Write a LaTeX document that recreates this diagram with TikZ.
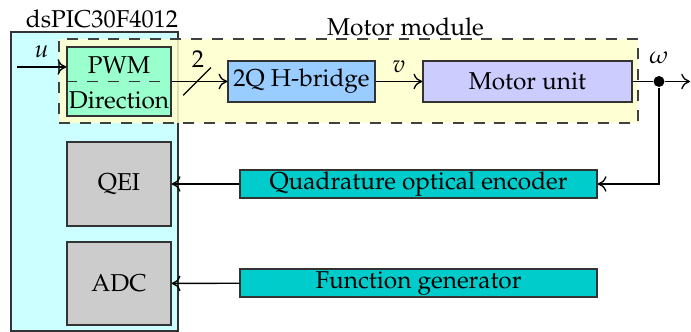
\documentclass[tikz,border=0pt]{standalone}
\usepackage[T1]{fontenc}
\usepackage{mathpazo}
\usetikzlibrary{
    positioning,
    arrows.meta
}
\definecolor{chipfill}{HTML}{CCFFFF}
\definecolor{modfill}{HTML}{FFFFCC}
\definecolor{pwmfill}{HTML}{99FFCC}
\definecolor{bridgefill}{HTML}{99CCFF}
\definecolor{motorfill}{HTML}{CCCCFF}
\definecolor{periphfill}{HTML}{CCCCCC}
\definecolor{extfill}{HTML}{00CCCC}
\tikzset{
    >={To[length=3.6pt, width=6.4pt]},
    every picture/.style={line width=0.55pt},
    block/.style={
        draw=black!80,
        inner sep=2pt
    },
    longdash/.style={
        dash pattern=on 4.5pt off 4pt
    },
    junction/.style={
        circle,
        fill=black,
        inner sep=0pt,
        minimum size=4.5pt
    }
}

\begin{document}
\begin{tikzpicture}[
    auto
]
    \useasboundingbox (0,0) rectangle (9.957,4.784);

    % Bloques grandes
    \node[block, fill=chipfill, minimum width=2.406cm, minimum height=4.309cm] (dspic) at (1.362,2.169) {};
    \node[block, draw=black!75, longdash, fill=modfill, fill opacity=0.85,
          minimum width=8.343cm, minimum height=1.210cm] (module) at (5.022,3.617) {};
    \node (dspiclbl) at (1.47,4.51)  {dsPIC30F4012};
    \node (modlbl)   at (5.843,4.40) {Motor module};

    % Bloques
    \node[block, fill=pwmfill,    minimum width=1.499cm, minimum height=0.994cm] (pwm)    at (1.715,3.610) {};
    \node[block, fill=bridgefill, minimum width=2.118cm, minimum height=0.591cm] (bridge) at (4.345,3.610) {2Q H-bridge};
    \node[block, fill=motorfill,  minimum width=3.012cm, minimum height=0.591cm] (motor)  at (7.601,3.610) {Motor unit};
    \node[block, fill=periphfill, minimum width=1.499cm, minimum height=1.210cm] (qei)    at (1.715,2.133) {QEI};
    \node[block, fill=periphfill, minimum width=1.499cm, minimum height=1.196cm] (adc)    at (1.715,0.699) {ADC};
    \node[block, fill=extfill,    minimum width=5.144cm, minimum height=0.403cm, inner sep=0pt] (enc)  at (6.031,2.133) {Quadrature optical encoder};
    \node[block, fill=extfill,    minimum width=5.144cm, minimum height=0.403cm, inner sep=0pt] (fgen) at (6.031,0.706) {Function generator};

    % PWM / Direction
    \node (pwmtxt) at (1.715,3.85) {PWM};
    \node (dirtxt) at (1.715,3.34) {Direction};
    \draw[longdash, black!80] (pwm.west) -- (pwm.east);

    % Puntos auxiliares
    \coordinate (uin)   at (0.245,3.819);
    \coordinate (wout)  at (9.943,3.610);
    \coordinate (slash) at (2.839,3.610);
    \node[junction] (node) at (9.496,3.610) {};

    % Conexiones
    \path[->]
        (uin)    edge node {$u$} (uin -| pwm.west)
        (pwm)    edge (bridge)
        (bridge) edge node {$v$} (motor)
        (enc)    edge (qei)
        (fgen)   edge (adc);
    \draw (motor.east) -- (node);
    \draw[->] (node) -- (wout);
    \draw[->] (node) |- (enc.east);
    \node[above=1pt of node] (omega) {$\omega$};

    % Bus de 2 bits
    \draw ([shift={(-0.2,-0.2)}]slash) -- ([shift={(0.2,0.2)}]slash);
    \node (buslbl) at (2.853,3.93) {2};

\end{tikzpicture}
\end{document}
